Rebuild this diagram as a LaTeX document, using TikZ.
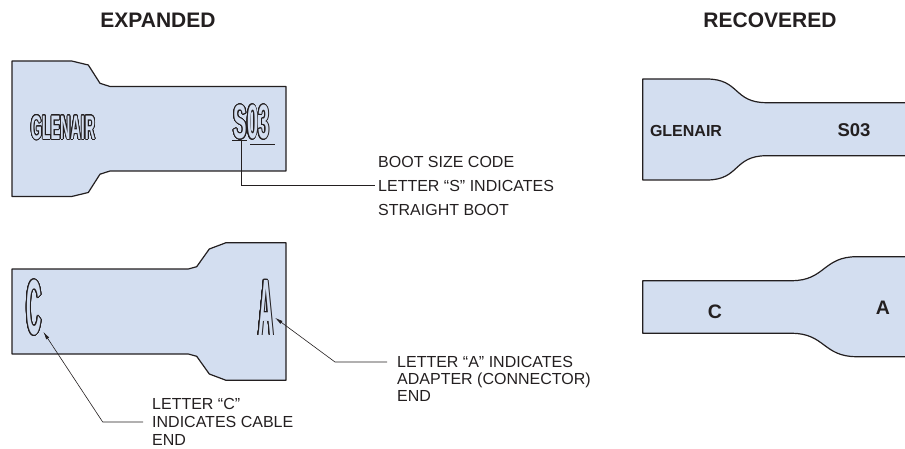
\documentclass[tikz,border=0pt]{standalone}
\usepackage{fontspec}
\setmainfont{Liberation Sans}
\newfontfamily\narrowfont[FakeStretch=0.42]{Liberation Sans}
\newfontfamily\tallfont[FakeStretch=0.27]{Liberation Sans}
\usepackage{contour}
\usetikzlibrary{arrows.meta}
\definecolor{bootblue}{RGB}{211,222,240}
\definecolor{ink}{RGB}{35,31,32}
\contourlength{0.8pt}
\contournumber{24}

\begin{document}
\begin{tikzpicture}[x = 1pt, y = -1pt,
	boot/.style = {fill = bootblue, draw = ink, line width = 1.2pt, line join = round},
	heading/.style = {text = ink, inner sep = 0pt, font = \bfseries\fontsize{21}{21}\selectfont},
	lbl/.style = {text = ink, align = left, inner sep = 0pt, anchor = west},
	leader/.style = {draw = ink, line width = 0.6pt},
	pointer/.style = {leader, -{Latex[length = 8pt, width = 3.5pt]}},
	stencil/.style = {inner sep = 0pt},
	printed/.style = {text = ink, inner sep = 0pt}]
	\useasboundingbox (0, 0) rectangle (905, 449);
	\node[heading] (expanded) at (158, 20) {EXPANDED};
	\node[heading] (recovered) at (770, 20) {RECOVERED};
	\draw[boot] (12, 61) -- (71.7, 61) -- (88.3, 65) -- (100, 83.3) -- (110, 86.5) -- (286, 86.5) -- (286, 171) -- (110, 171) -- (100, 174.2) -- (88.3, 192.5) -- (71.7, 196.5) -- (12, 196.5) -- cycle;
	\draw[boot] (12, 269) -- (188.3, 269) -- (196.7, 266.7) -- (209.3, 249) -- (226, 242.7) -- (286, 242.7) -- (286, 380.3) -- (226, 380.3) -- (209.3, 374) -- (196.7, 356.3) -- (188.3, 354) -- (12, 354) -- cycle;
	\begin{scope}
		\clip (600, 0) rectangle (905, 449);
		\draw[boot] (642.7, 79) -- (706.7, 79) .. controls (740, 79) and (733, 102.7) .. (766.7, 102.7) -- (915, 102.7) -- (915, 155.7) -- (766.7, 155.7) .. controls (733, 155.7) and (740, 180) .. (706.7, 180) -- (642.7, 180) -- cycle;
		\draw[boot] (642.7, 280.7) -- (791.7, 280.7) .. controls (825, 280.7) and (823, 256.7) .. (856.7, 256.7) -- (915, 256.7) -- (915, 356.7) -- (856.7, 356.7) .. controls (823, 356.7) and (825, 333.3) .. (791.7, 333.3) -- (642.7, 333.3) -- cycle;
	\end{scope}
	\node[stencil, font = \narrowfont\bfseries\fontsize{34}{34}\selectfont] (glenairX) at (63, 128) {\contour{ink}{\textcolor{bootblue}{GLENAIR}}};
	\node[stencil, font = \narrowfont\bfseries\fontsize{48}{48}\selectfont] (codeX) at (251.5, 122.5) {\contour{ink}{\textcolor{bootblue}{S03}}};
	\node[stencil, font = \tallfont\bfseries\fontsize{78}{78}\selectfont] (cableX) at (34, 308) {\contour{ink}{\textcolor{bootblue}{C}}};
	\node[stencil, font = \tallfont\bfseries\fontsize{80}{80}\selectfont] (adapterX) at (266, 308) {\contour{ink}{\textcolor{bootblue}{A}}};
	\node[printed, font = \bfseries\fontsize{16}{16}\selectfont] (glenairR) at (686, 131) {GLENAIR};
	\node[printed, font = \bfseries\fontsize{18.5}{18.5}\selectfont] (codeR) at (854, 130) {S03};
	\node[printed, font = \bfseries\fontsize{19.5}{19.5}\selectfont] (cableR) at (715, 312) {C};
	\node[printed, font = \bfseries\fontsize{19.5}{19.5}\selectfont] (adapterR) at (883, 308) {A};
	\draw[leader] (232, 140.3) -- (247, 140.3);
	\draw[leader] (250, 144.3) -- (275, 144.3);
	\coordinate (sMark) at (241, 140.3);
	\node[lbl, font = \fontsize{16}{24}\selectfont] (lblS) at (378, 185.7) {BOOT SIZE CODE\\LETTER “S” INDICATES\\STRAIGHT BOOT};
	\draw[leader] (sMark) |- ([xshift = -3pt]lblS.west);
	\node[lbl, font = \fontsize{16}{18}\selectfont] (lblC) at (152, 422) {LETTER “C”\\INDICATES CABLE\\END};
	\coordinate (kneeC) at (102.7, 422);
	\coordinate (tipC) at (43.3, 331.7);
	\draw[pointer] ([xshift = -9pt]lblC.west) -- (kneeC) -- (tipC);
	\node[lbl, font = \fontsize{16}{17}\selectfont, yshift = -17pt] (lblA) at (397, 362) {LETTER “A” INDICATES\\ADAPTER (CONNECTOR)\\END};
	\coordinate (kneeA) at (335, 362);
	\coordinate (tipA) at (275, 317.7);
	\draw[pointer] ([xshift = -10pt, yshift = 17pt]lblA.west) -- (kneeA) -- (tipA);
\end{tikzpicture}
\end{document}
